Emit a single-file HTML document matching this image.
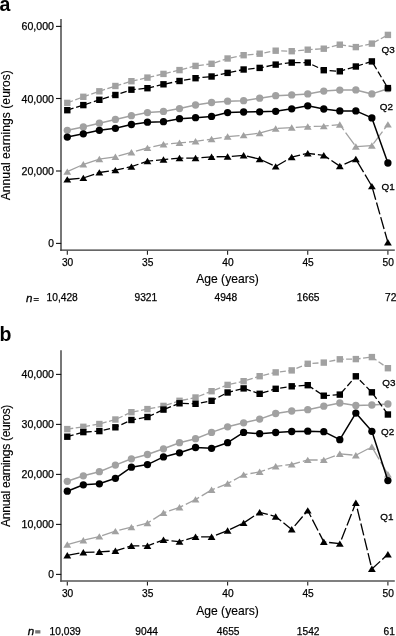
<!DOCTYPE html>
<html><head><meta charset="utf-8"><style>
html,body{margin:0;padding:0;background:#fff;}
svg{display:block;filter:grayscale(1);}
.t{font-family:"Liberation Sans",sans-serif;font-size:10.2px;fill:#000;stroke:#000;stroke-width:0.25px;}
.l{font-family:"Liberation Sans",sans-serif;font-size:12.1px;fill:#000;stroke:#000;stroke-width:0.15px;}
.n{font-family:"Liberation Sans",sans-serif;font-size:11.6px;font-style:italic;fill:#000;stroke:#000;stroke-width:0.3px;}
.q{font-family:"Liberation Sans",sans-serif;font-size:9.9px;fill:#000;stroke:#000;stroke-width:0.3px;}
.eq{font-family:"Liberation Sans",sans-serif;font-size:10.5px;fill:#000;}
.p{font-family:"Liberation Sans",sans-serif;font-size:19.5px;font-weight:bold;fill:#000;}
</style></head><body>
<svg width="396" height="636" viewBox="0 0 396 636">
<line x1="61" y1="19" x2="61" y2="250.79999999999998" stroke="#555" stroke-width="1.6"/>
<line x1="60.2" y1="250.1" x2="394.8" y2="250.1" stroke="#333" stroke-width="1.3"/>
<line x1="56" y1="26.4" x2="61.2" y2="26.4" stroke="#111" stroke-width="1.1"/>
<text x="54.0" y="30.40" text-anchor="end" class="t" textLength="32.4" lengthAdjust="spacingAndGlyphs">60,000</text>
<line x1="56" y1="98.5" x2="61.2" y2="98.5" stroke="#111" stroke-width="1.1"/>
<text x="54.0" y="102.50" text-anchor="end" class="t" textLength="32.4" lengthAdjust="spacingAndGlyphs">40,000</text>
<line x1="56" y1="171" x2="61.2" y2="171" stroke="#111" stroke-width="1.1"/>
<text x="54.0" y="175.00" text-anchor="end" class="t" textLength="32.4" lengthAdjust="spacingAndGlyphs">20,000</text>
<line x1="56" y1="243.4" x2="61.2" y2="243.4" stroke="#111" stroke-width="1.1"/>
<text x="54.0" y="247.40" text-anchor="end" class="t">0</text>
<line x1="67.30" y1="250.79999999999998" x2="67.30" y2="254.7" stroke="#222" stroke-width="1.1"/>
<text x="67.60" y="265.6" text-anchor="middle" class="t">30</text>
<line x1="147.45" y1="250.79999999999998" x2="147.45" y2="254.7" stroke="#222" stroke-width="1.1"/>
<text x="147.75" y="265.6" text-anchor="middle" class="t">35</text>
<line x1="227.60" y1="250.79999999999998" x2="227.60" y2="254.7" stroke="#222" stroke-width="1.1"/>
<text x="227.90" y="265.6" text-anchor="middle" class="t">40</text>
<line x1="307.75" y1="250.79999999999998" x2="307.75" y2="254.7" stroke="#222" stroke-width="1.1"/>
<text x="308.05" y="265.6" text-anchor="middle" class="t">45</text>
<line x1="387.90" y1="250.79999999999998" x2="387.90" y2="254.7" stroke="#222" stroke-width="1.1"/>
<text x="388.20" y="265.6" text-anchor="middle" class="t">50</text>
<text x="227.5" y="283.4" text-anchor="middle" class="l">Age (years)</text>
<text transform="translate(9.9,200.3) rotate(-90)" x="0" y="0" class="l" textLength="130.2" lengthAdjust="spacing">Annual earnings (euros)</text>
<text x="26" y="302.0" class="n">n</text>
<path d="M33.6,298.5H38.8M33.6,300.45H38.8" stroke="#1a1a1a" stroke-width="0.95"/>
<text x="46.6" y="301.4" class="t">10,428</text>
<text x="134.5" y="301.4" class="t">9321</text>
<text x="214.5" y="301.4" class="t">4948</text>
<text x="296.8" y="301.4" class="t">1665</text>
<text x="385" y="301.4" class="t">72</text>
<text x="381.6" y="53.2" class="q">Q3</text>
<text x="379.8" y="109.7" class="q">Q2</text>
<text x="381.6" y="190.1" class="q">Q1</text>
<polyline points="67.30,171.70 83.33,164.40 99.36,159.10 115.39,156.80 131.42,152.30 147.45,148.00 163.48,144.40 179.51,142.90 195.54,141.40 211.57,139.10 227.60,136.60 243.63,135.20 259.66,133.10 275.69,128.60 291.72,127.60 307.75,126.60 323.78,126.20 339.81,124.60 355.84,146.60 371.87,145.60 387.90,124.50" fill="none" stroke="#a1a1a1" stroke-width="1.3" stroke-dasharray="15 3" stroke-linejoin="round"/>
<path d="M67.30,168.40L71.20,174.80L63.40,174.80Z" fill="#a1a1a1"/>
<path d="M83.33,161.10L87.23,167.50L79.43,167.50Z" fill="#a1a1a1"/>
<path d="M99.36,155.80L103.26,162.20L95.46,162.20Z" fill="#a1a1a1"/>
<path d="M115.39,153.50L119.29,159.90L111.49,159.90Z" fill="#a1a1a1"/>
<path d="M131.42,149.00L135.32,155.40L127.52,155.40Z" fill="#a1a1a1"/>
<path d="M147.45,144.70L151.35,151.10L143.55,151.10Z" fill="#a1a1a1"/>
<path d="M163.48,141.10L167.38,147.50L159.58,147.50Z" fill="#a1a1a1"/>
<path d="M179.51,139.60L183.41,146.00L175.61,146.00Z" fill="#a1a1a1"/>
<path d="M195.54,138.10L199.44,144.50L191.64,144.50Z" fill="#a1a1a1"/>
<path d="M211.57,135.80L215.47,142.20L207.67,142.20Z" fill="#a1a1a1"/>
<path d="M227.60,133.30L231.50,139.70L223.70,139.70Z" fill="#a1a1a1"/>
<path d="M243.63,131.90L247.53,138.30L239.73,138.30Z" fill="#a1a1a1"/>
<path d="M259.66,129.80L263.56,136.20L255.76,136.20Z" fill="#a1a1a1"/>
<path d="M275.69,125.30L279.59,131.70L271.79,131.70Z" fill="#a1a1a1"/>
<path d="M291.72,124.30L295.62,130.70L287.82,130.70Z" fill="#a1a1a1"/>
<path d="M307.75,123.30L311.65,129.70L303.85,129.70Z" fill="#a1a1a1"/>
<path d="M323.78,122.90L327.68,129.30L319.88,129.30Z" fill="#a1a1a1"/>
<path d="M339.81,121.30L343.71,127.70L335.91,127.70Z" fill="#a1a1a1"/>
<path d="M355.84,143.30L359.74,149.70L351.94,149.70Z" fill="#a1a1a1"/>
<path d="M371.87,142.30L375.77,148.70L367.97,148.70Z" fill="#a1a1a1"/>
<path d="M387.90,121.20L391.80,127.60L384.00,127.60Z" fill="#a1a1a1"/>
<polyline points="67.30,179.50 83.33,178.00 99.36,172.50 115.39,170.20 131.42,166.70 147.45,161.10 163.48,159.60 179.51,158.10 195.54,158.10 211.57,156.80 227.60,156.60 243.63,155.40 259.66,159.10 275.69,166.50 291.72,157.10 307.75,153.30 323.78,155.40 339.81,166.10 355.84,159.10 371.87,186.20 387.90,242.40" fill="none" stroke="#000" stroke-width="1.3" stroke-dasharray="12.3 2.9" stroke-linejoin="round"/>
<path d="M67.30,176.20L71.20,182.60L63.40,182.60Z" fill="#000"/>
<path d="M83.33,174.70L87.23,181.10L79.43,181.10Z" fill="#000"/>
<path d="M99.36,169.20L103.26,175.60L95.46,175.60Z" fill="#000"/>
<path d="M115.39,166.90L119.29,173.30L111.49,173.30Z" fill="#000"/>
<path d="M131.42,163.40L135.32,169.80L127.52,169.80Z" fill="#000"/>
<path d="M147.45,157.80L151.35,164.20L143.55,164.20Z" fill="#000"/>
<path d="M163.48,156.30L167.38,162.70L159.58,162.70Z" fill="#000"/>
<path d="M179.51,154.80L183.41,161.20L175.61,161.20Z" fill="#000"/>
<path d="M195.54,154.80L199.44,161.20L191.64,161.20Z" fill="#000"/>
<path d="M211.57,153.50L215.47,159.90L207.67,159.90Z" fill="#000"/>
<path d="M227.60,153.30L231.50,159.70L223.70,159.70Z" fill="#000"/>
<path d="M243.63,152.10L247.53,158.50L239.73,158.50Z" fill="#000"/>
<path d="M259.66,155.80L263.56,162.20L255.76,162.20Z" fill="#000"/>
<path d="M275.69,163.20L279.59,169.60L271.79,169.60Z" fill="#000"/>
<path d="M291.72,153.80L295.62,160.20L287.82,160.20Z" fill="#000"/>
<path d="M307.75,150.00L311.65,156.40L303.85,156.40Z" fill="#000"/>
<path d="M323.78,152.10L327.68,158.50L319.88,158.50Z" fill="#000"/>
<path d="M339.81,162.80L343.71,169.20L335.91,169.20Z" fill="#000"/>
<path d="M355.84,155.80L359.74,162.20L351.94,162.20Z" fill="#000"/>
<path d="M371.87,182.90L375.77,189.30L367.97,189.30Z" fill="#000"/>
<path d="M387.90,239.10L391.80,245.50L384.00,245.50Z" fill="#000"/>
<polyline points="67.30,130.30 83.33,127.00 99.36,123.20 115.39,119.40 131.42,115.70 147.45,112.60 163.48,111.40 179.51,108.60 195.54,105.00 211.57,102.50 227.60,101.20 243.63,100.70 259.66,98.20 275.69,95.70 291.72,94.90 307.75,93.90 323.78,91.10 339.81,90.10 355.84,89.90 371.87,93.90 387.90,88.70" fill="none" stroke="#a1a1a1" stroke-width="1.5" stroke-linejoin="round"/>
<circle cx="67.30" cy="130.30" r="3.65" fill="#a1a1a1"/>
<circle cx="83.33" cy="127.00" r="3.65" fill="#a1a1a1"/>
<circle cx="99.36" cy="123.20" r="3.65" fill="#a1a1a1"/>
<circle cx="115.39" cy="119.40" r="3.65" fill="#a1a1a1"/>
<circle cx="131.42" cy="115.70" r="3.65" fill="#a1a1a1"/>
<circle cx="147.45" cy="112.60" r="3.65" fill="#a1a1a1"/>
<circle cx="163.48" cy="111.40" r="3.65" fill="#a1a1a1"/>
<circle cx="179.51" cy="108.60" r="3.65" fill="#a1a1a1"/>
<circle cx="195.54" cy="105.00" r="3.65" fill="#a1a1a1"/>
<circle cx="211.57" cy="102.50" r="3.65" fill="#a1a1a1"/>
<circle cx="227.60" cy="101.20" r="3.65" fill="#a1a1a1"/>
<circle cx="243.63" cy="100.70" r="3.65" fill="#a1a1a1"/>
<circle cx="259.66" cy="98.20" r="3.65" fill="#a1a1a1"/>
<circle cx="275.69" cy="95.70" r="3.65" fill="#a1a1a1"/>
<circle cx="291.72" cy="94.90" r="3.65" fill="#a1a1a1"/>
<circle cx="307.75" cy="93.90" r="3.65" fill="#a1a1a1"/>
<circle cx="323.78" cy="91.10" r="3.65" fill="#a1a1a1"/>
<circle cx="339.81" cy="90.10" r="3.65" fill="#a1a1a1"/>
<circle cx="355.84" cy="89.90" r="3.65" fill="#a1a1a1"/>
<circle cx="371.87" cy="93.90" r="3.65" fill="#a1a1a1"/>
<circle cx="387.90" cy="88.70" r="3.65" fill="#a1a1a1"/>
<polyline points="67.30,102.90 83.33,96.80 99.36,91.30 115.39,86.00 131.42,81.20 147.45,77.60 163.48,73.90 179.51,70.10 195.54,65.90 211.57,63.80 227.60,58.50 243.63,55.20 259.66,53.70 275.69,50.70 291.72,51.20 307.75,49.70 323.78,48.70 339.81,44.70 355.84,47.10 371.87,43.60 387.90,34.90" fill="none" stroke="#a1a1a1" stroke-width="1.3" stroke-dasharray="6 2.5" stroke-linejoin="round"/>
<rect x="64.10" y="99.70" width="6.4" height="6.4" fill="#a1a1a1"/>
<rect x="80.13" y="93.60" width="6.4" height="6.4" fill="#a1a1a1"/>
<rect x="96.16" y="88.10" width="6.4" height="6.4" fill="#a1a1a1"/>
<rect x="112.19" y="82.80" width="6.4" height="6.4" fill="#a1a1a1"/>
<rect x="128.22" y="78.00" width="6.4" height="6.4" fill="#a1a1a1"/>
<rect x="144.25" y="74.40" width="6.4" height="6.4" fill="#a1a1a1"/>
<rect x="160.28" y="70.70" width="6.4" height="6.4" fill="#a1a1a1"/>
<rect x="176.31" y="66.90" width="6.4" height="6.4" fill="#a1a1a1"/>
<rect x="192.34" y="62.70" width="6.4" height="6.4" fill="#a1a1a1"/>
<rect x="208.37" y="60.60" width="6.4" height="6.4" fill="#a1a1a1"/>
<rect x="224.40" y="55.30" width="6.4" height="6.4" fill="#a1a1a1"/>
<rect x="240.43" y="52.00" width="6.4" height="6.4" fill="#a1a1a1"/>
<rect x="256.46" y="50.50" width="6.4" height="6.4" fill="#a1a1a1"/>
<rect x="272.49" y="47.50" width="6.4" height="6.4" fill="#a1a1a1"/>
<rect x="288.52" y="48.00" width="6.4" height="6.4" fill="#a1a1a1"/>
<rect x="304.55" y="46.50" width="6.4" height="6.4" fill="#a1a1a1"/>
<rect x="320.58" y="45.50" width="6.4" height="6.4" fill="#a1a1a1"/>
<rect x="336.61" y="41.50" width="6.4" height="6.4" fill="#a1a1a1"/>
<rect x="352.64" y="43.90" width="6.4" height="6.4" fill="#a1a1a1"/>
<rect x="368.67" y="40.40" width="6.4" height="6.4" fill="#a1a1a1"/>
<rect x="384.70" y="31.70" width="6.4" height="6.4" fill="#a1a1a1"/>
<polyline points="67.30,110.20 83.33,105.10 99.36,99.80 115.39,95.00 131.42,89.70 147.45,88.20 163.48,84.30 179.51,81.00 195.54,78.20 211.57,76.50 227.60,72.90 243.63,69.50 259.66,67.90 275.69,64.60 291.72,62.60 307.75,62.60 323.78,70.20 339.81,71.30 355.84,66.50 371.87,61.40 387.90,88.10" fill="none" stroke="#000" stroke-width="1.3" stroke-dasharray="6.5 2.8" stroke-linejoin="round"/>
<rect x="64.10" y="107.00" width="6.4" height="6.4" fill="#000"/>
<rect x="80.13" y="101.90" width="6.4" height="6.4" fill="#000"/>
<rect x="96.16" y="96.60" width="6.4" height="6.4" fill="#000"/>
<rect x="112.19" y="91.80" width="6.4" height="6.4" fill="#000"/>
<rect x="128.22" y="86.50" width="6.4" height="6.4" fill="#000"/>
<rect x="144.25" y="85.00" width="6.4" height="6.4" fill="#000"/>
<rect x="160.28" y="81.10" width="6.4" height="6.4" fill="#000"/>
<rect x="176.31" y="77.80" width="6.4" height="6.4" fill="#000"/>
<rect x="192.34" y="75.00" width="6.4" height="6.4" fill="#000"/>
<rect x="208.37" y="73.30" width="6.4" height="6.4" fill="#000"/>
<rect x="224.40" y="69.70" width="6.4" height="6.4" fill="#000"/>
<rect x="240.43" y="66.30" width="6.4" height="6.4" fill="#000"/>
<rect x="256.46" y="64.70" width="6.4" height="6.4" fill="#000"/>
<rect x="272.49" y="61.40" width="6.4" height="6.4" fill="#000"/>
<rect x="288.52" y="59.40" width="6.4" height="6.4" fill="#000"/>
<rect x="304.55" y="59.40" width="6.4" height="6.4" fill="#000"/>
<rect x="320.58" y="67.00" width="6.4" height="6.4" fill="#000"/>
<rect x="336.61" y="68.10" width="6.4" height="6.4" fill="#000"/>
<rect x="352.64" y="63.30" width="6.4" height="6.4" fill="#000"/>
<rect x="368.67" y="58.20" width="6.4" height="6.4" fill="#000"/>
<rect x="384.70" y="84.90" width="6.4" height="6.4" fill="#000"/>
<polyline points="67.30,137.10 83.33,133.80 99.36,130.30 115.39,128.30 131.42,124.50 147.45,122.20 163.48,121.70 179.51,118.70 195.54,117.70 211.57,116.40 227.60,112.60 243.63,112.00 259.66,111.80 275.69,111.30 291.72,108.80 307.75,105.80 323.78,109.00 339.81,110.90 355.84,110.90 371.87,117.90 387.90,163.00" fill="none" stroke="#000" stroke-width="1.5" stroke-linejoin="round"/>
<circle cx="67.30" cy="137.10" r="3.65" fill="#000"/>
<circle cx="83.33" cy="133.80" r="3.65" fill="#000"/>
<circle cx="99.36" cy="130.30" r="3.65" fill="#000"/>
<circle cx="115.39" cy="128.30" r="3.65" fill="#000"/>
<circle cx="131.42" cy="124.50" r="3.65" fill="#000"/>
<circle cx="147.45" cy="122.20" r="3.65" fill="#000"/>
<circle cx="163.48" cy="121.70" r="3.65" fill="#000"/>
<circle cx="179.51" cy="118.70" r="3.65" fill="#000"/>
<circle cx="195.54" cy="117.70" r="3.65" fill="#000"/>
<circle cx="211.57" cy="116.40" r="3.65" fill="#000"/>
<circle cx="227.60" cy="112.60" r="3.65" fill="#000"/>
<circle cx="243.63" cy="112.00" r="3.65" fill="#000"/>
<circle cx="259.66" cy="111.80" r="3.65" fill="#000"/>
<circle cx="275.69" cy="111.30" r="3.65" fill="#000"/>
<circle cx="291.72" cy="108.80" r="3.65" fill="#000"/>
<circle cx="307.75" cy="105.80" r="3.65" fill="#000"/>
<circle cx="323.78" cy="109.00" r="3.65" fill="#000"/>
<circle cx="339.81" cy="110.90" r="3.65" fill="#000"/>
<circle cx="355.84" cy="110.90" r="3.65" fill="#000"/>
<circle cx="371.87" cy="117.90" r="3.65" fill="#000"/>
<circle cx="387.90" cy="163.00" r="3.65" fill="#000"/>
<line x1="61" y1="350.3" x2="61" y2="581.7" stroke="#555" stroke-width="1.6"/>
<line x1="60.2" y1="581.0" x2="394.8" y2="581.0" stroke="#555" stroke-width="1.6"/>
<line x1="56" y1="374.4" x2="61.2" y2="374.4" stroke="#111" stroke-width="1.1"/>
<text x="54.0" y="378.40" text-anchor="end" class="t" textLength="32.4" lengthAdjust="spacingAndGlyphs">40,000</text>
<line x1="56" y1="424.4" x2="61.2" y2="424.4" stroke="#111" stroke-width="1.1"/>
<text x="54.0" y="428.40" text-anchor="end" class="t" textLength="32.4" lengthAdjust="spacingAndGlyphs">30,000</text>
<line x1="56" y1="474.4" x2="61.2" y2="474.4" stroke="#111" stroke-width="1.1"/>
<text x="54.0" y="478.40" text-anchor="end" class="t" textLength="32.4" lengthAdjust="spacingAndGlyphs">20,000</text>
<line x1="56" y1="524.4" x2="61.2" y2="524.4" stroke="#111" stroke-width="1.1"/>
<text x="54.0" y="528.40" text-anchor="end" class="t" textLength="32.4" lengthAdjust="spacingAndGlyphs">10,000</text>
<line x1="56" y1="574.4" x2="61.2" y2="574.4" stroke="#111" stroke-width="1.1"/>
<text x="54.0" y="578.40" text-anchor="end" class="t">0</text>
<line x1="67.30" y1="581.7" x2="67.30" y2="585.6" stroke="#222" stroke-width="1.1"/>
<text x="67.60" y="597.2" text-anchor="middle" class="t">30</text>
<line x1="147.45" y1="581.7" x2="147.45" y2="585.6" stroke="#222" stroke-width="1.1"/>
<text x="147.75" y="597.2" text-anchor="middle" class="t">35</text>
<line x1="227.60" y1="581.7" x2="227.60" y2="585.6" stroke="#222" stroke-width="1.1"/>
<text x="227.90" y="597.2" text-anchor="middle" class="t">40</text>
<line x1="307.75" y1="581.7" x2="307.75" y2="585.6" stroke="#222" stroke-width="1.1"/>
<text x="308.05" y="597.2" text-anchor="middle" class="t">45</text>
<line x1="387.90" y1="581.7" x2="387.90" y2="585.6" stroke="#222" stroke-width="1.1"/>
<text x="388.20" y="597.2" text-anchor="middle" class="t">50</text>
<text x="227.5" y="615.1" text-anchor="middle" class="l">Age (years)</text>
<text transform="translate(9.9,526.9) rotate(-90)" x="0" y="0" class="l" textLength="122.3" lengthAdjust="spacing">Annual earnings (euros)</text>
<text x="27.7" y="635.0" class="n">n</text>
<rect x="35.2" y="630.2" width="5.2" height="3.3" fill="#777"/>
<text x="49.6" y="634.9" class="t">10,039</text>
<text x="135.3" y="634.9" class="t">9044</text>
<text x="216.8" y="634.9" class="t">4655</text>
<text x="296.8" y="634.9" class="t">1542</text>
<text x="383.5" y="634.9" class="t">61</text>
<text x="382.3" y="386.4" class="q">Q3</text>
<text x="381" y="434.9" class="q">Q2</text>
<text x="380.3" y="519.8" class="q">Q1</text>
<polyline points="67.30,544.60 83.33,540.30 99.36,536.50 115.39,531.20 131.42,527.20 147.45,523.10 163.48,512.90 179.51,507.40 195.54,499.50 211.57,489.90 227.60,483.60 243.63,474.70 259.66,471.90 275.69,466.30 291.72,464.50 307.75,460.00 323.78,460.00 339.81,453.90 355.84,455.30 371.87,446.80 387.90,474.40" fill="none" stroke="#a1a1a1" stroke-width="1.3" stroke-dasharray="15 3" stroke-linejoin="round"/>
<path d="M67.30,541.30L71.20,547.70L63.40,547.70Z" fill="#a1a1a1"/>
<path d="M83.33,537.00L87.23,543.40L79.43,543.40Z" fill="#a1a1a1"/>
<path d="M99.36,533.20L103.26,539.60L95.46,539.60Z" fill="#a1a1a1"/>
<path d="M115.39,527.90L119.29,534.30L111.49,534.30Z" fill="#a1a1a1"/>
<path d="M131.42,523.90L135.32,530.30L127.52,530.30Z" fill="#a1a1a1"/>
<path d="M147.45,519.80L151.35,526.20L143.55,526.20Z" fill="#a1a1a1"/>
<path d="M163.48,509.60L167.38,516.00L159.58,516.00Z" fill="#a1a1a1"/>
<path d="M179.51,504.10L183.41,510.50L175.61,510.50Z" fill="#a1a1a1"/>
<path d="M195.54,496.20L199.44,502.60L191.64,502.60Z" fill="#a1a1a1"/>
<path d="M211.57,486.60L215.47,493.00L207.67,493.00Z" fill="#a1a1a1"/>
<path d="M227.60,480.30L231.50,486.70L223.70,486.70Z" fill="#a1a1a1"/>
<path d="M243.63,471.40L247.53,477.80L239.73,477.80Z" fill="#a1a1a1"/>
<path d="M259.66,468.60L263.56,475.00L255.76,475.00Z" fill="#a1a1a1"/>
<path d="M275.69,463.00L279.59,469.40L271.79,469.40Z" fill="#a1a1a1"/>
<path d="M291.72,461.20L295.62,467.60L287.82,467.60Z" fill="#a1a1a1"/>
<path d="M307.75,456.70L311.65,463.10L303.85,463.10Z" fill="#a1a1a1"/>
<path d="M323.78,456.70L327.68,463.10L319.88,463.10Z" fill="#a1a1a1"/>
<path d="M339.81,450.60L343.71,457.00L335.91,457.00Z" fill="#a1a1a1"/>
<path d="M355.84,452.00L359.74,458.40L351.94,458.40Z" fill="#a1a1a1"/>
<path d="M371.87,443.50L375.77,449.90L367.97,449.90Z" fill="#a1a1a1"/>
<path d="M387.90,471.10L391.80,477.50L384.00,477.50Z" fill="#a1a1a1"/>
<polyline points="67.30,555.40 83.33,552.40 99.36,551.90 115.39,550.90 131.42,545.90 147.45,545.90 163.48,539.90 179.51,541.70 195.54,536.90 211.57,536.90 227.60,530.60 243.63,523.00 259.66,512.30 275.69,516.60 291.72,529.40 307.75,510.50 323.78,541.90 339.81,543.70 355.84,502.80 371.87,568.90 387.90,554.30" fill="none" stroke="#000" stroke-width="1.3" stroke-dasharray="12.3 2.9" stroke-linejoin="round"/>
<path d="M67.30,552.10L71.20,558.50L63.40,558.50Z" fill="#000"/>
<path d="M83.33,549.10L87.23,555.50L79.43,555.50Z" fill="#000"/>
<path d="M99.36,548.60L103.26,555.00L95.46,555.00Z" fill="#000"/>
<path d="M115.39,547.60L119.29,554.00L111.49,554.00Z" fill="#000"/>
<path d="M131.42,542.60L135.32,549.00L127.52,549.00Z" fill="#000"/>
<path d="M147.45,542.60L151.35,549.00L143.55,549.00Z" fill="#000"/>
<path d="M163.48,536.60L167.38,543.00L159.58,543.00Z" fill="#000"/>
<path d="M179.51,538.40L183.41,544.80L175.61,544.80Z" fill="#000"/>
<path d="M195.54,533.60L199.44,540.00L191.64,540.00Z" fill="#000"/>
<path d="M211.57,533.60L215.47,540.00L207.67,540.00Z" fill="#000"/>
<path d="M227.60,527.30L231.50,533.70L223.70,533.70Z" fill="#000"/>
<path d="M243.63,519.70L247.53,526.10L239.73,526.10Z" fill="#000"/>
<path d="M259.66,509.00L263.56,515.40L255.76,515.40Z" fill="#000"/>
<path d="M275.69,513.30L279.59,519.70L271.79,519.70Z" fill="#000"/>
<path d="M291.72,526.10L295.62,532.50L287.82,532.50Z" fill="#000"/>
<path d="M307.75,507.20L311.65,513.60L303.85,513.60Z" fill="#000"/>
<path d="M323.78,538.60L327.68,545.00L319.88,545.00Z" fill="#000"/>
<path d="M339.81,540.40L343.71,546.80L335.91,546.80Z" fill="#000"/>
<path d="M355.84,499.50L359.74,505.90L351.94,505.90Z" fill="#000"/>
<path d="M371.87,565.60L375.77,572.00L367.97,572.00Z" fill="#000"/>
<path d="M387.90,551.00L391.80,557.40L384.00,557.40Z" fill="#000"/>
<polyline points="67.30,481.30 83.33,475.80 99.36,471.70 115.39,465.10 131.42,458.80 147.45,454.50 163.48,448.80 179.51,442.70 195.54,438.70 211.57,432.40 227.60,426.80 243.63,422.80 259.66,419.10 275.69,413.50 291.72,411.00 307.75,409.70 323.78,406.20 339.81,403.00 355.84,405.40 371.87,405.00 387.90,404.00" fill="none" stroke="#a1a1a1" stroke-width="1.5" stroke-linejoin="round"/>
<circle cx="67.30" cy="481.30" r="3.65" fill="#a1a1a1"/>
<circle cx="83.33" cy="475.80" r="3.65" fill="#a1a1a1"/>
<circle cx="99.36" cy="471.70" r="3.65" fill="#a1a1a1"/>
<circle cx="115.39" cy="465.10" r="3.65" fill="#a1a1a1"/>
<circle cx="131.42" cy="458.80" r="3.65" fill="#a1a1a1"/>
<circle cx="147.45" cy="454.50" r="3.65" fill="#a1a1a1"/>
<circle cx="163.48" cy="448.80" r="3.65" fill="#a1a1a1"/>
<circle cx="179.51" cy="442.70" r="3.65" fill="#a1a1a1"/>
<circle cx="195.54" cy="438.70" r="3.65" fill="#a1a1a1"/>
<circle cx="211.57" cy="432.40" r="3.65" fill="#a1a1a1"/>
<circle cx="227.60" cy="426.80" r="3.65" fill="#a1a1a1"/>
<circle cx="243.63" cy="422.80" r="3.65" fill="#a1a1a1"/>
<circle cx="259.66" cy="419.10" r="3.65" fill="#a1a1a1"/>
<circle cx="275.69" cy="413.50" r="3.65" fill="#a1a1a1"/>
<circle cx="291.72" cy="411.00" r="3.65" fill="#a1a1a1"/>
<circle cx="307.75" cy="409.70" r="3.65" fill="#a1a1a1"/>
<circle cx="323.78" cy="406.20" r="3.65" fill="#a1a1a1"/>
<circle cx="339.81" cy="403.00" r="3.65" fill="#a1a1a1"/>
<circle cx="355.84" cy="405.40" r="3.65" fill="#a1a1a1"/>
<circle cx="371.87" cy="405.00" r="3.65" fill="#a1a1a1"/>
<circle cx="387.90" cy="404.00" r="3.65" fill="#a1a1a1"/>
<polyline points="67.30,429.10 83.33,426.80 99.36,424.00 115.39,419.50 131.42,412.20 147.45,409.10 163.48,405.90 179.51,400.80 195.54,397.50 211.57,391.20 227.60,384.90 243.63,381.20 259.66,376.20 275.69,372.40 291.72,370.40 307.75,363.80 323.78,362.60 339.81,359.30 355.84,359.10 371.87,357.10 387.90,368.20" fill="none" stroke="#a1a1a1" stroke-width="1.3" stroke-dasharray="6 2.5" stroke-linejoin="round"/>
<rect x="64.10" y="425.90" width="6.4" height="6.4" fill="#a1a1a1"/>
<rect x="80.13" y="423.60" width="6.4" height="6.4" fill="#a1a1a1"/>
<rect x="96.16" y="420.80" width="6.4" height="6.4" fill="#a1a1a1"/>
<rect x="112.19" y="416.30" width="6.4" height="6.4" fill="#a1a1a1"/>
<rect x="128.22" y="409.00" width="6.4" height="6.4" fill="#a1a1a1"/>
<rect x="144.25" y="405.90" width="6.4" height="6.4" fill="#a1a1a1"/>
<rect x="160.28" y="402.70" width="6.4" height="6.4" fill="#a1a1a1"/>
<rect x="176.31" y="397.60" width="6.4" height="6.4" fill="#a1a1a1"/>
<rect x="192.34" y="394.30" width="6.4" height="6.4" fill="#a1a1a1"/>
<rect x="208.37" y="388.00" width="6.4" height="6.4" fill="#a1a1a1"/>
<rect x="224.40" y="381.70" width="6.4" height="6.4" fill="#a1a1a1"/>
<rect x="240.43" y="378.00" width="6.4" height="6.4" fill="#a1a1a1"/>
<rect x="256.46" y="373.00" width="6.4" height="6.4" fill="#a1a1a1"/>
<rect x="272.49" y="369.20" width="6.4" height="6.4" fill="#a1a1a1"/>
<rect x="288.52" y="367.20" width="6.4" height="6.4" fill="#a1a1a1"/>
<rect x="304.55" y="360.60" width="6.4" height="6.4" fill="#a1a1a1"/>
<rect x="320.58" y="359.40" width="6.4" height="6.4" fill="#a1a1a1"/>
<rect x="336.61" y="356.10" width="6.4" height="6.4" fill="#a1a1a1"/>
<rect x="352.64" y="355.90" width="6.4" height="6.4" fill="#a1a1a1"/>
<rect x="368.67" y="353.90" width="6.4" height="6.4" fill="#a1a1a1"/>
<rect x="384.70" y="365.00" width="6.4" height="6.4" fill="#a1a1a1"/>
<polyline points="67.30,436.70 83.33,432.10 99.36,431.10 115.39,427.30 131.42,420.00 147.45,417.00 163.48,409.60 179.51,403.30 195.54,403.80 211.57,400.80 227.60,392.50 243.63,388.40 259.66,393.80 275.69,388.80 291.72,386.30 307.75,385.20 323.78,395.70 339.81,394.60 355.84,376.30 371.87,392.30 387.90,414.50" fill="none" stroke="#000" stroke-width="1.3" stroke-dasharray="6.5 2.8" stroke-linejoin="round"/>
<rect x="64.10" y="433.50" width="6.4" height="6.4" fill="#000"/>
<rect x="80.13" y="428.90" width="6.4" height="6.4" fill="#000"/>
<rect x="96.16" y="427.90" width="6.4" height="6.4" fill="#000"/>
<rect x="112.19" y="424.10" width="6.4" height="6.4" fill="#000"/>
<rect x="128.22" y="416.80" width="6.4" height="6.4" fill="#000"/>
<rect x="144.25" y="413.80" width="6.4" height="6.4" fill="#000"/>
<rect x="160.28" y="406.40" width="6.4" height="6.4" fill="#000"/>
<rect x="176.31" y="400.10" width="6.4" height="6.4" fill="#000"/>
<rect x="192.34" y="400.60" width="6.4" height="6.4" fill="#000"/>
<rect x="208.37" y="397.60" width="6.4" height="6.4" fill="#000"/>
<rect x="224.40" y="389.30" width="6.4" height="6.4" fill="#000"/>
<rect x="240.43" y="385.20" width="6.4" height="6.4" fill="#000"/>
<rect x="256.46" y="390.60" width="6.4" height="6.4" fill="#000"/>
<rect x="272.49" y="385.60" width="6.4" height="6.4" fill="#000"/>
<rect x="288.52" y="383.10" width="6.4" height="6.4" fill="#000"/>
<rect x="304.55" y="382.00" width="6.4" height="6.4" fill="#000"/>
<rect x="320.58" y="392.50" width="6.4" height="6.4" fill="#000"/>
<rect x="336.61" y="391.40" width="6.4" height="6.4" fill="#000"/>
<rect x="352.64" y="373.10" width="6.4" height="6.4" fill="#000"/>
<rect x="368.67" y="389.10" width="6.4" height="6.4" fill="#000"/>
<rect x="384.70" y="411.30" width="6.4" height="6.4" fill="#000"/>
<polyline points="67.30,491.20 83.33,484.80 99.36,483.80 115.39,478.30 131.42,467.20 147.45,464.60 163.48,456.90 179.51,452.80 195.54,447.50 211.57,448.30 227.60,442.70 243.63,432.40 259.66,433.70 275.69,432.50 291.72,431.50 307.75,431.20 323.78,431.70 339.81,439.70 355.84,413.10 371.87,431.30 387.90,480.60" fill="none" stroke="#000" stroke-width="1.5" stroke-linejoin="round"/>
<circle cx="67.30" cy="491.20" r="3.65" fill="#000"/>
<circle cx="83.33" cy="484.80" r="3.65" fill="#000"/>
<circle cx="99.36" cy="483.80" r="3.65" fill="#000"/>
<circle cx="115.39" cy="478.30" r="3.65" fill="#000"/>
<circle cx="131.42" cy="467.20" r="3.65" fill="#000"/>
<circle cx="147.45" cy="464.60" r="3.65" fill="#000"/>
<circle cx="163.48" cy="456.90" r="3.65" fill="#000"/>
<circle cx="179.51" cy="452.80" r="3.65" fill="#000"/>
<circle cx="195.54" cy="447.50" r="3.65" fill="#000"/>
<circle cx="211.57" cy="448.30" r="3.65" fill="#000"/>
<circle cx="227.60" cy="442.70" r="3.65" fill="#000"/>
<circle cx="243.63" cy="432.40" r="3.65" fill="#000"/>
<circle cx="259.66" cy="433.70" r="3.65" fill="#000"/>
<circle cx="275.69" cy="432.50" r="3.65" fill="#000"/>
<circle cx="291.72" cy="431.50" r="3.65" fill="#000"/>
<circle cx="307.75" cy="431.20" r="3.65" fill="#000"/>
<circle cx="323.78" cy="431.70" r="3.65" fill="#000"/>
<circle cx="339.81" cy="439.70" r="3.65" fill="#000"/>
<circle cx="355.84" cy="413.10" r="3.65" fill="#000"/>
<circle cx="371.87" cy="431.30" r="3.65" fill="#000"/>
<circle cx="387.90" cy="480.60" r="3.65" fill="#000"/>
<text x="-0.6" y="11" class="p">a</text>
<text x="-0.4" y="341.2" class="p">b</text>
</svg>
</body></html>
